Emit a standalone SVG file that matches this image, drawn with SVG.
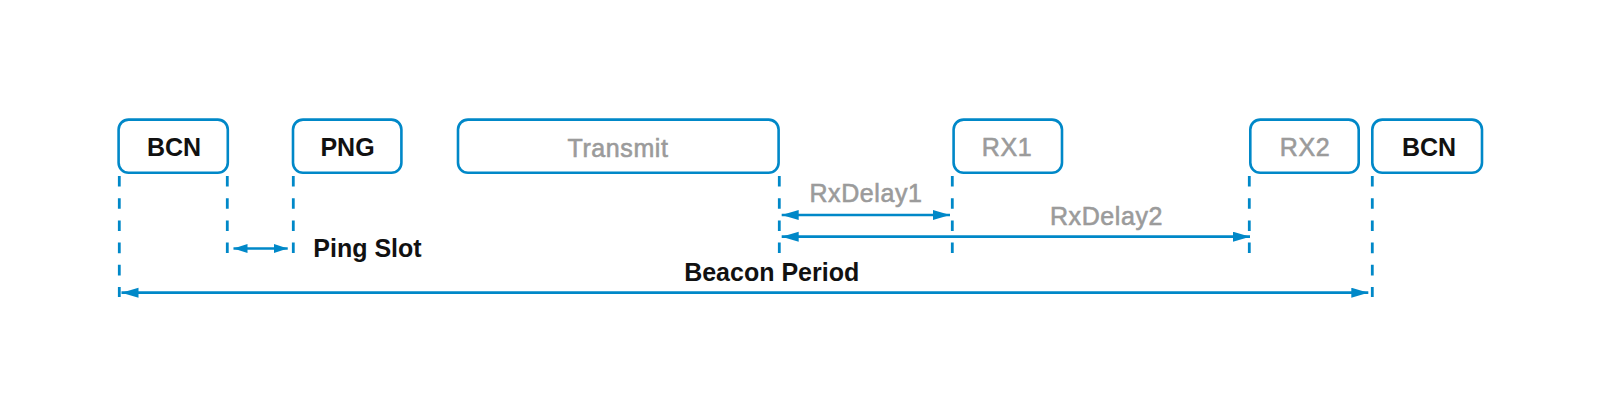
<svg xmlns="http://www.w3.org/2000/svg" width="1600" height="420" viewBox="0 0 1600 420">
  <style>
    .box { fill: #ffffff; stroke: #0088c8; stroke-width: 2.6; }
    .dash { stroke: #0088c8; stroke-width: 2.8; stroke-dasharray: 10.6 11.6; fill: none; }
    .arr { stroke: #0088c8; stroke-width: 2.7; fill: none; }
    .lbl { font-family: "Liberation Sans", Arial, sans-serif; font-size: 25px; text-anchor: middle; }
    .dark { fill: #111111; font-weight: bold; }
    .gray { fill: #9b9b9b; stroke: #9b9b9b; stroke-width: 0.6; letter-spacing: 0.6px; }
  </style>
  <defs>
    <marker id="ah" markerUnits="userSpaceOnUse" markerWidth="18" markerHeight="11" refX="17" refY="5" orient="auto-start-reverse">
      <path d="M0,0 L17,5 L0,10 z" fill="#0088c8"/>
    </marker>
    <marker id="ahs" markerUnits="userSpaceOnUse" markerWidth="15" markerHeight="10" refX="14" refY="4.5" orient="auto-start-reverse">
      <path d="M0,0 L14,4.5 L0,9 z" fill="#0088c8"/>
    </marker>
  </defs>
  <rect width="1600" height="420" fill="#ffffff"/>

  <g id="bcn1">
    <rect class="box" x="118.6" y="119.6" width="109.2" height="53.2" rx="10"/>
    <text class="lbl dark" x="174" y="156">BCN</text>
  </g>
  <g id="png">
    <rect class="box" x="293" y="119.6" width="108.4" height="53.2" rx="10"/>
    <text class="lbl dark" x="347.5" y="156">PNG</text>
  </g>
  <g id="transmit">
    <rect class="box" x="458" y="119.6" width="320.6" height="53.2" rx="10"/>
    <text class="lbl gray" x="618" y="156.5">Transmit</text>
  </g>
  <g id="rx1">
    <rect class="box" x="953.6" y="119.6" width="108.4" height="53.2" rx="10"/>
    <text class="lbl gray" x="1007" y="156">RX1</text>
  </g>
  <g id="rx2">
    <rect class="box" x="1250.3" y="119.6" width="108.4" height="53.2" rx="10"/>
    <text class="lbl gray" x="1305" y="156">RX2</text>
  </g>
  <g id="bcn2">
    <rect class="box" x="1372.3" y="119.6" width="109.7" height="53.2" rx="10"/>
    <text class="lbl dark" x="1429" y="156">BCN</text>
  </g>

  <g id="connectors">
    <line class="dash" x1="119.3" y1="176" x2="119.3" y2="297"/>
    <line class="dash" x1="227.3" y1="176" x2="227.3" y2="253"/>
    <line class="dash" x1="293.3" y1="176" x2="293.3" y2="253"/>
    <line class="dash" x1="779.3" y1="176" x2="779.3" y2="253"/>
    <line class="dash" x1="952.3" y1="176" x2="952.3" y2="253"/>
    <line class="dash" x1="1249.3" y1="176" x2="1249.3" y2="253"/>
    <line class="dash" x1="1372.3" y1="176" x2="1372.3" y2="297"/>

    <line class="arr" x1="233.5" y1="248.5" x2="287.7" y2="248.5" marker-start="url(#ahs)" marker-end="url(#ahs)"/>
    <line class="arr" x1="781.7" y1="215" x2="950" y2="215" marker-start="url(#ah)" marker-end="url(#ah)"/>
    <line class="arr" x1="781.7" y1="236.7" x2="1250" y2="236.7" marker-start="url(#ah)" marker-end="url(#ah)"/>
    <line class="arr" x1="121.5" y1="292.7" x2="1368.3" y2="292.7" marker-start="url(#ah)" marker-end="url(#ah)"/>
  </g>

  <g id="labels">
    <text class="lbl gray" x="866" y="201.7">RxDelay1</text>
    <text class="lbl gray" x="1106.5" y="225">RxDelay2</text>
    <text class="lbl dark" x="313.3" y="256.7" style="text-anchor:start">Ping Slot</text>
    <text class="lbl dark" x="771.7" y="280.7">Beacon Period</text>
  </g>
</svg>
